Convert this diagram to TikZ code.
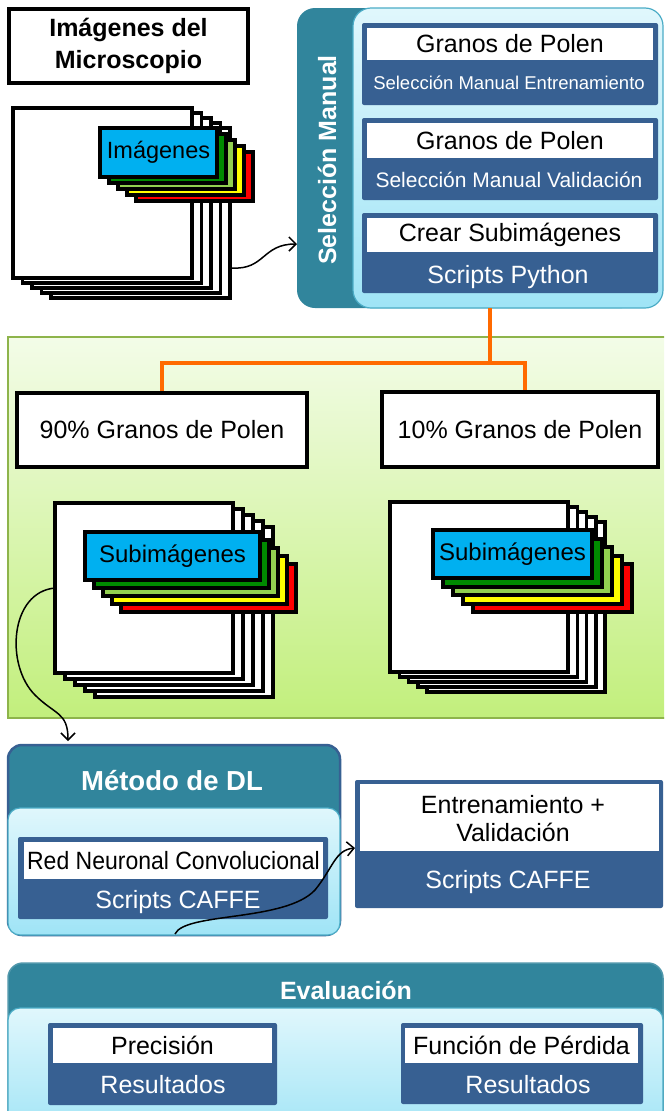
\documentclass[tikz,border=0pt]{standalone}
\usepackage{fontspec}
\setmainfont{Liberation Sans}
\usetikzlibrary{fit,calc,arrows.meta}

\definecolor{tealhead}{HTML}{31859C}
\definecolor{dkblue}{HTML}{376092}
\definecolor{lcyanT}{HTML}{E0F7FC}
\definecolor{lcyanB}{HTML}{9FE4F6}
\definecolor{cyanline}{HTML}{4BACC6}
\definecolor{grT}{HTML}{F3FCE8}
\definecolor{grB}{HTML}{C2EF7C}
\definecolor{grline}{HTML}{8EB44B}
\definecolor{orangeL}{HTML}{FF6A00}
\definecolor{tabblue}{HTML}{00B0F0}
\definecolor{tabdg}{HTML}{008A00}
\definecolor{tablg}{HTML}{92D050}
\definecolor{tabyel}{HTML}{FFFF00}
\definecolor{tabred}{HTML}{FF0000}

\newcommand\fs[1]{\fontsize{#1}{#1}\selectfont}

\begin{document}
\begin{tikzpicture}[x=1pt,y=-1pt,
  box/.style={inner sep=0pt, outer sep=0pt},
  page/.style={box, draw=black, fill=white, line width=3.5pt},
  tabbox/.style={box, draw=black, line width=4pt},
  darkbox/.style={box, fill=dkblue, rounded corners=2pt},
  strip/.style={box, fill=white},
  wtxt/.style={inner sep=0pt, text=white, font=\fs{25}},
  btxt/.style={inner sep=0pt, text=black, font=\fs{25}},
  headtxt/.style={inner sep=0pt, text=white, font=\bfseries\fs{25}},
  panel/.style={box, draw=cyanline, line width=1.2pt, top color=lcyanT, bottom color=lcyanB},
  framebox/.style={box, draw=black, line width=4pt, fill=white},
  orangeline/.style={draw=orangeL, line width=4pt},
  conn/.style={line width=1.5pt, -{Straight Barb[length=7pt,width=14pt,line width=1.5pt]}},
]
\useasboundingbox (0,0) rectangle (664,1111);
\clip (0,0) rectangle (664,1111);

% ---------- title ----------
\node[framebox, fit={(9,9)(248,83)}] (titlebox) {};
\node[btxt, align=center, font=\bfseries\fontsize{25}{32}\selectfont] (titletxt)
  at (titlebox.center) {Imágenes del\\Microscopio};

% ---------- microscope image stack ----------
\foreach \i in {4,3,2,1}
  \node[page, fit={(13+9.5*\i,108+5*\i)(192+9.5*\i,278+5*\i)}] (sA\i) {};
\node[page, fit={(13,108)(192,278)}] (sA) {};
\foreach \i/\c in {4/tabred,3/tabyel,2/tablg,1/tabdg}
  \node[tabbox, fill=\c, fit={(100+9*\i,128+6*\i)(217+9*\i,177+6*\i)}] (sAt\i) {};
\node[tabbox, fill=tabblue, fit={(100,128)(217,177)}] (sAt) {};
\node[btxt, font=\fs{23.5}] (sAtxt) at (sAt.center) {Imágenes};

% ---------- manual selection ----------
\node[box, fill=tealhead, rounded corners=18pt, fit={(297,8)(640,308)}] (selman) {};
\node[panel, rounded corners=18pt, fit={(353,8)(663,308)}] (selpanel) {};
\node[headtxt, rotate=90] (seltitle) at (327,160) {Selección Manual};

\node[darkbox, fit={(362,23)(658,105)}] (sm1) {};
\node[strip, fit={(367,28)(653,60)}] (sm1a) {};
\node[btxt] at (sm1a.center) {Granos de Polen};
\node[wtxt, font=\fs{18.5}] (sm1b) at (509,83) {Selección Manual Entrenamiento};

\node[darkbox, fit={(362,118)(658,200)}] (sm2) {};
\node[strip, fit={(367,123)(653,158)}] (sm2a) {};
\node[btxt] at (sm2a.center) {Granos de Polen};
\node[wtxt, font=\fs{21}] (sm2b) at (509,180) {Selección Manual Validación};

\node[darkbox, fit={(362,213)(658,293)}] (sm3) {};
\node[strip, fit={(367,218)(653,252)}] (sm3a) {};
\node[btxt] at (sm3a.center) {Crear Subimágenes};
\node[wtxt] (sm3b) at (508,277) {Scripts Python};

% ---------- data split ----------
\node[box, draw=grline, line width=1.5pt, top color=grT, bottom color=grB,
      fit={(8,337)(672,718)}] (green) {};
\node[framebox, fit={(17,393)(307,467)}] (box90) {};
\node[btxt] at (box90.center) {90\% Granos de Polen};
\node[framebox, fit={(382,392)(658,467)}] (box10) {};
\node[btxt] at (box10.center) {10\% Granos de Polen};
\coordinate (junction) at (490,363);
\draw[orangeline] (selpanel.south -| junction) -- (junction)
  -| ([shift={(0,-2)}]box90.north);
\draw[orangeline] (junction) -| ([shift={(5,-2)}]box10.north);

% training sub-images
\foreach \i in {4,3,2,1}
  \node[page, fit={(55+10*\i,503+6*\i)(233+10*\i,673+6*\i)}] (sB\i) {};
\node[page, fit={(55,503)(233,673)}] (sB) {};
\foreach \i/\c in {4/tabred,3/tabyel,2/tablg,1/tabdg}
  \node[tabbox, fill=\c, fit={(85+9*\i,532+8*\i)(260+9*\i,580+8*\i)}] (sBt\i) {};
\node[tabbox, fill=tabblue, fit={(85,532)(260,580)}] (sBt) {};
\node[btxt, font=\fs{24}] at (sBt.center) {Subimágenes};

% validation sub-images
\foreach \i in {4,3,2,1}
  \node[page, fit={(390+9.3*\i,502+5*\i)(568+9.3*\i,672+5*\i)}] (sC\i) {};
\node[page, fit={(390,502)(568,672)}] (sC) {};
\foreach \i/\c in {4/tabred,3/tabyel,2/tablg,1/tabdg}
  \node[tabbox, fill=\c, fit={(433+10*\i,530+8.5*\i)(592+10*\i,578+8.5*\i)}] (sCt\i) {};
\node[tabbox, fill=tabblue, fit={(433,530)(592,578)}] (sCt) {};
\node[btxt, font=\fs{24}] at (sCt.center) {Subimágenes};

% ---------- deep learning method ----------
\node[box, fill=tealhead, draw=dkblue, line width=2.5pt, rounded corners=14pt,
      fit={(8,745)(340,935)}] (metodo) {};
\node[panel, rounded corners=12pt, fit={(8,808)(340,935)}] (metpanel) {};
\node[headtxt, font=\bfseries\fs{27.5}] (mettitle) at (172,781) {Método de DL};
\node[darkbox, fit={(18,837)(328,919)}] (cnn) {};
\node[strip, fit={(24,842)(323,879)}] (cnna) {};
\node[btxt] at (cnna.center) {\scalebox{0.92}[1]{Red Neuronal Convolucional}};
\node[wtxt] (cnnb) at (178,902) {Scripts CAFFE};

% ---------- training + validation ----------
\node[darkbox, fit={(355,780)(663,908)}] (train) {};
\node[box, fill=white, fit={(360,784)(659,851)}] (traina) {};
\node[btxt, align=center, font=\fontsize{25}{28}\selectfont] (trainab) at (513,819)
  {Entrenamiento +\\Validación};
\node[wtxt] (trainb) at (508,882) {Scripts CAFFE};

% ---------- evaluation ----------
\node[box, fill=tealhead, draw=tealhead!85!white, line width=1.5pt, rounded corners=15pt,
      fit={(8,963)(663,1140)}] (evalbox) {};
\node[panel, rounded corners=12pt, fit={(8,1008)(663,1140)}] (evpanel) {};
\node[headtxt] (evtitle) at (346,990) {Evaluación};
\node[darkbox, fit={(48,1023)(277,1105)}] (prec) {};
\node[strip, fit={(53,1028)(272,1063)}] (preca) {};
\node[btxt] at (preca.center) {Precisión};
\node[wtxt] (precb) at (163,1085) {Resultados};
\node[darkbox, fit={(401,1023)(643,1104)}] (loss) {};
\node[strip, fit={(405,1028)(638,1063)}] (lossa) {};
\node[btxt] at (lossa.center) {Función de Pérdida};
\node[wtxt] (lossb) at (528,1085) {Resultados};

% ---------- curved connectors ----------
\draw[conn] ($(sA4.south east)+(2,-30)$) .. controls (265,270) and (262,244) ..
  ($(selman.south west)+(0,-64)$);
\draw[conn] (sB.west) .. controls (10,592) and (5,665) .. (35,695)
  .. controls (55,715) and (68,712) .. ($(metodo.north west)+(60,-4)$);
\draw[conn] ($(metodo.south)+(1,-1)$) .. controls (185,912) and (285,922) .. (315,890)
  .. controls (333,868) and (335,850) .. ($(train.west)+(0,4)$);
\end{tikzpicture}
\end{document}
